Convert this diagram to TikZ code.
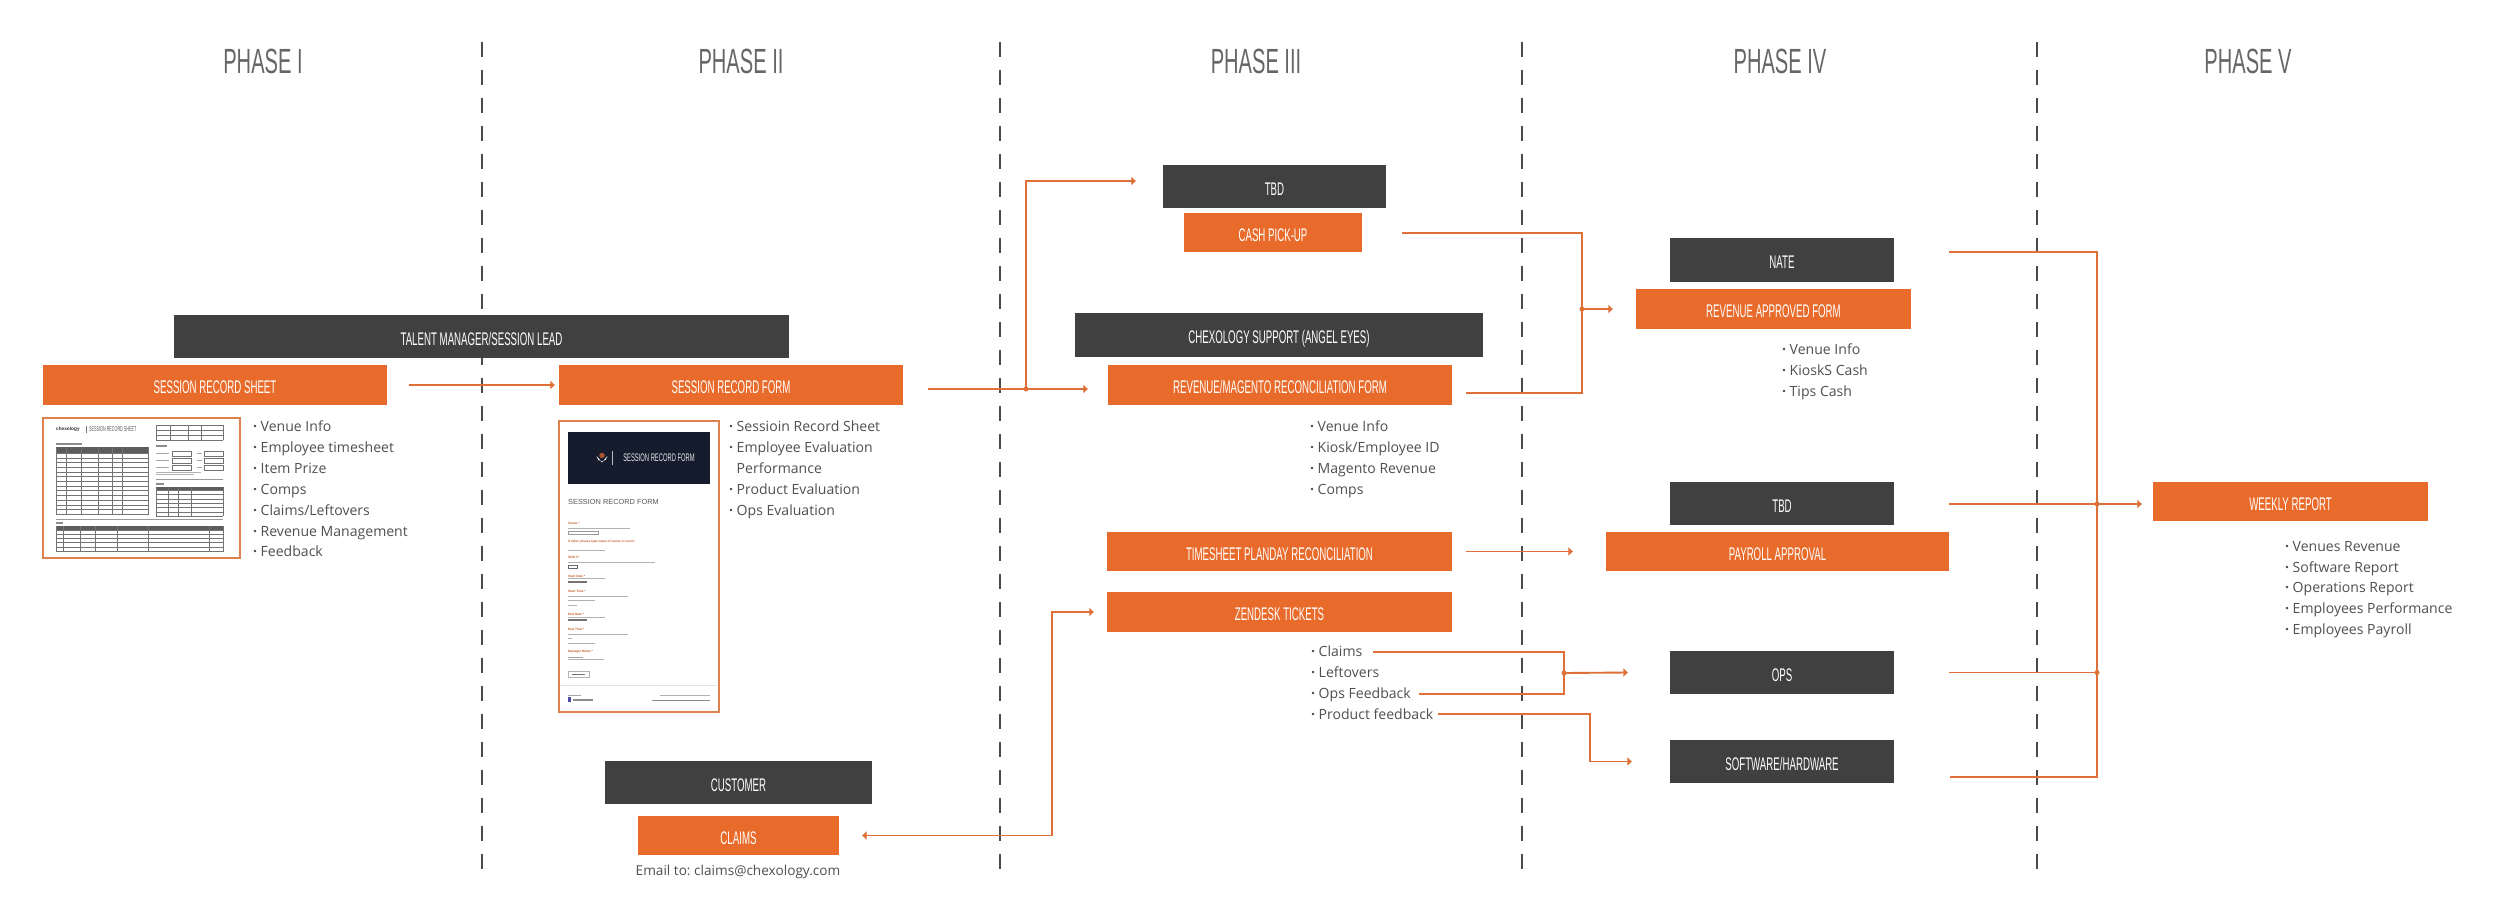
\documentclass[tikz,border=0pt]{standalone}
\usepackage{fontspec}
\setmainfont{Open Sans}
\newfontfamily\capf[FakeStretch=0.53]{Liberation Sans}
\newfontfamily\titlef[FakeStretch=0.575]{Liberation Sans}
\newfontfamily\tinyf{Liberation Sans}
\usetikzlibrary{arrows.meta,calc}
\definecolor{orangebox}{HTML}{E96B2B}
\definecolor{darkbox}{HTML}{404040}
\definecolor{connline}{HTML}{DF7038}
\definecolor{dashgrey}{HTML}{4A4A4A}
\definecolor{bodygrey}{HTML}{505050}
\definecolor{titlegrey}{HTML}{666666}
\definecolor{frameor}{HTML}{DE8250}
\definecolor{navy}{HTML}{141C2E}
\tikzset{
 x=0.4mm,y=-0.4mm,
 caplabel/.style={inner sep=0pt,text=white,font=\capf\fontsize{20.8}{22}\selectfont,text height=19.4pt,text depth=0pt},
 orbox/.style={caplabel,fill=orangebox},
 dkbox/.style={caplabel,fill=darkbox},
 phasetitle/.style={inner sep=0pt,text=titlegrey,font=\titlef\fontsize{39.8}{42}\selectfont},
 bullets/.style={inner sep=0pt,anchor=north west,align=left,text=bodygrey,font=\fontsize{16}{23.7}\selectfont},
 divider/.style={draw=dashgrey,line width=0.7mm,dash pattern=on 5.8mm off 5.4mm},
 conn/.style={draw=connline,line width=0.75mm},
 arr/.style={-{Triangle[length=5pt,width=9pt]}},
 duo/.style={{Triangle[length=5pt,width=9pt]}-{Triangle[length=5pt,width=9pt]}},
 thumbframe/.style={draw=frameor,line width=0.8mm,fill=white,inner sep=0pt},
 tl/.style={draw=black!55,line width=0.16mm},
 tinytxt/.style={inner sep=0pt,anchor=west,font=\tinyf\fontsize{3.6}{4}\selectfont\bfseries,text=orangebox!85!black},
}
\newcommand{\bx}[7]{\node[#2,minimum width={(#5-#3)*0.4mm},minimum height={(#6-#4)*0.4mm}] (#1) at ({(#3+#5)/2},{(#4+#6)/2}) {#7};}
\newcommand{\dotj}[1]{\fill[connline] (#1) circle[radius=1mm];}
\newcommand{\bu}{\textbf{·}\hspace{4pt}}
\newcommand{\nobu}{\phantom{\textbf{·}}\hspace{4pt}}
\frenchspacing
\begin{document}
\begin{tikzpicture}
\useasboundingbox (0,0) rectangle (2500,917);
\fill[white] (0,0) rectangle (2500,917);

% dividers
\foreach \n/\dx in {a/482,b/1000,c/1522,d/2037}{
  \coordinate (\n top) at (\dx,42);
  \coordinate (\n bot) at (\dx,876);
  \draw[divider] (\n top) -- (\n bot);
}

% phase titles
\node[phasetitle] (ph1) at (263,61) {PHASE I};
\node[phasetitle] (ph2) at (741,61) {PHASE II};
\node[phasetitle] (ph3) at (1256,61) {PHASE III};
\node[phasetitle] (ph4) at (1780,61) {PHASE IV};
\node[phasetitle] (ph5) at (2248,61) {PHASE V};

% boxes
\bx{talent}{dkbox}{174}{315}{789}{358}{TALENT MANAGER/SESSION LEAD}
\bx{sheet}{orbox}{43}{365}{387}{405}{SESSION RECORD SHEET}
\bx{form}{orbox}{559}{365}{903}{405}{SESSION RECORD FORM}
\bx{tbd}{dkbox}{1163}{165}{1386}{208}{TBD}
\bx{cash}{orbox}{1184}{213}{1362}{252}{CASH PICK-UP}
\bx{chex}{dkbox}{1075}{313}{1483}{357}{CHEXOLOGY SUPPORT (ANGEL EYES)}
\bx{rev}{orbox}{1108}{365}{1452}{405}{REVENUE/MAGENTO RECONCILIATION FORM}
\bx{time}{orbox}{1107}{532}{1452}{571}{TIMESHEET PLANDAY RECONCILIATION}
\bx{zen}{orbox}{1107}{592}{1452}{632}{ZENDESK TICKETS}
\bx{nate}{dkbox}{1670}{238}{1894}{282}{NATE}
\bx{appr}{orbox}{1636}{289}{1911}{329}{REVENUE APPROVED FORM}
\bx{tbdb}{dkbox}{1670}{482}{1894}{525}{TBD}
\bx{pay}{orbox}{1606}{532}{1949}{571}{PAYROLL APPROVAL}
\bx{ops}{dkbox}{1670}{651}{1894}{694}{OPS}
\bx{soft}{dkbox}{1670}{740}{1894}{783}{SOFTWARE/HARDWARE}
\bx{week}{orbox}{2153}{482}{2428}{521}{WEEKLY REPORT}
\bx{cust}{dkbox}{605}{761}{872}{804}{CUSTOMER}
\bx{claims}{orbox}{638}{816}{839}{855}{CLAIMS}

% bullet lists
\node[bullets] (l1) at (253,421) {\bu Venue Info\\\bu Employee timesheet\\\bu Item Prize\\\bu Comps\\\bu Claims/Leftovers\\\bu Revenue Management\\\bu Feedback};
\node[bullets] (l2) at (729,421) {\bu Sessioin Record Sheet\\\bu Employee Evaluation\\\nobu Performance\\\bu Product Evaluation\\\bu Ops Evaluation};
\node[bullets] (l3) at (1310,421) {\bu Venue Info\\\bu Kiosk/Employee ID\\\bu Magento Revenue\\\bu Comps};
\node[bullets] (l4) at (1782,344) {\bu Venue Info\\\bu KioskS Cash\\\bu Tips Cash};
\node[bullets] (l5) at (1311,646) {\bu Claims\\\bu Leftovers\\\bu Ops Feedback\\\bu Product feedback};
\node[bullets] (l6) at (2285,541) {\bu Venues Revenue\\\bu Software Report\\\bu Operations Report\\\bu Employees Performance\\\bu Employees Payroll};
\node[inner sep=0pt,text=bodygrey,font=\fontsize{15.5}{20}\selectfont] (mail) at (738,872) {Email to: claims@chexology.com};

% connector coordinates
\coordinate (busa) at (1026,389);
\coordinate (busb) at (1582,309);
\coordinate (busc) at (1052,720);
\coordinate (busd) at (1564,673);
\coordinate (buse) at (1590,740);
\coordinate (busf) at (2097,504);
\coordinate (busg) at (2097,672.5);
\coordinate (fromclaims) at (1373,652);
\coordinate (fromops) at (1419,694);
\coordinate (fromprod) at (1438,714);

% connectors
\draw[conn,arr] ($(sheet.east)+(22,0)$) -- ($(form.west)+(-4,0)$);
\draw[conn,arr] ($(form.east)+(25,4)$) -- ($(rev.west)+(-20,4)$);
\draw[conn,arr] (busa) |- ($(tbd.west)+(-27,-5.5)$);
\dotj{busa}
\draw[conn] ($(cash.east)+(40,0.5)$) -| (busb) |- ($(rev.east)+(14,8)$);
\draw[conn,arr] (busb) -- ($(appr.west)+(-23,0)$);
\dotj{busb}
\draw[conn,arr] ($(time.east)+(14,0)$) -- ($(pay.west)+(-33,0)$);
\draw[conn,duo] ($(zen.west)+(-13,0)$) -| (busc) |- ($(claims.east)+(23,0)$);
\draw[conn] (fromclaims) -| (busd) |- (fromops);
\draw[conn,arr] (busd) -- ($(ops.west)+(-42,0)$);
\dotj{busd}
\draw[conn,arr] (fromprod) -| (buse) |- ($(soft.west)+(-38,0)$);
\draw[conn] ($(nate.east)+(55,-8)$) -| (busf) |- ($(soft.east)+(56,15.5)$);
\draw[conn,arr] ($(tbdb.east)+(55,0.5)$) -- ($(week.west)+(-11,2.5)$);
\draw[conn] ($(ops.east)+(55,0)$) -- (busg);
\dotj{busf}
\dotj{busg}

% thumbnail 1: session record sheet
\bx{thumbsheet}{thumbframe}{43}{418}{240}{558}{}
\node[inner sep=0pt,anchor=west,font=\tinyf\fontsize{5.4}{6}\selectfont\bfseries,text=black!80] (logo) at (56,429) {chexology};
\node[inner sep=0pt,anchor=west,font=\capf\fontsize{8}{9}\selectfont,text=black!65] (sheettitle) at (89,429.5) {SESSION RECORD SHEET};
\draw[tl] (86.5,426) -- (86.5,433);
% main table
\fill[darkbox!85] (56,447) rectangle (148,453);
\foreach \v in {453,457.7,...,515.5}{\draw[tl] (56,\v) -- (148,\v);}
\foreach \u in {56,65.7,81,97.7,112.3,122.3,148}{\draw[tl] (\u,447) -- (\u,515);}
\fill[black!45] (56,443) rectangle (82,445);
% top right table
\foreach \v in {425,430,435,440}{\draw[tl] (156,\v) -- (223,\v);}
\foreach \u in {156,170,188,201,223}{\draw[tl] (\u,425) -- (\u,440);}
% inputs
\foreach \v in {451,458,465}{
  \draw[tl] (172,\v) rectangle (191,\v+5);
  \draw[tl] (204,\v) rectangle (223,\v+5);
  \fill[black!35] (156,\v+2) rectangle (169,\v+3);
  \fill[black!35] (197,\v+2) rectangle (202,\v+3);
}
\fill[black!45] (156,445) rectangle (167,447);
\fill[black!30] (156,471.5) rectangle (201,472.5);
\fill[black!30] (156,474) rectangle (194,475);
\draw[black!40,line width=0.14mm] (156,479) -- (223,479);
% right table 2
\fill[black!45] (156,482.5) rectangle (164,484.5);
\fill[darkbox!85] (156,487) rectangle (223,490);
\foreach \v in {490,494.4,...,517}{\draw[tl] (156,\v) -- (223,\v);}
\foreach \u in {156,168,178,191,223}{\draw[tl] (\u,487) -- (\u,516);}
\draw[black!40,line width=0.14mm] (56,519) -- (223,519);
% bottom table
\fill[black!45] (56,522) rectangle (63,524);
\fill[darkbox!85] (56,526) rectangle (223.5,530);
\foreach \v in {530,534.2,...,552}{\draw[tl] (56,\v) -- (223.5,\v);}
\foreach \u in {56,63,80,95,117,148,209,223.5}{\draw[tl] (\u,526) -- (\u,551);}

% thumbnail 2: session record form
\bx{thumbform}{thumbframe}{559}{421}{719}{712}{}
\fill[navy] (568,432) rectangle (710,484);
\fill[white] (602,462.5) -- (596.6,456) arc[start angle=180,end angle=0,radius=5.4] -- cycle;
\fill[orangebox!70!navy] (602,455.5) circle[radius=1.1mm];
\draw[white!70!navy,line width=0.14mm] (612,451) -- (612,465);
\node[inner sep=0pt,font=\capf\fontsize{12.5}{14}\selectfont,text=white!90!navy] (bantxt) at (659,458) {SESSION RECORD FORM};
\node[inner sep=0pt,anchor=west,font=\tinyf\fontsize{8.4}{10}\selectfont,text=black!65] (formtitle) at (568,502) {SESSION RECORD FORM};
\foreach \t/\v in {Venue */523,If other{,} please type name of venue or event./541.5,Shift \#*/557.5,Start Date */576,Start Time */591,End Date */614,End Time */629,Manager Name */652}{
  \node[tinytxt] at (568,\v) {\t};
}
\foreach \u/\v in {630/528,655/562,628/596,595/600,628/634,595/643}{
  \fill[black!30] (568,\v-0.5) rectangle (\u,\v+0.5);
}
\fill[black!30] (568,604.5) rectangle (577,605.5);
\fill[black!30] (568,638) rectangle (572,639);
\foreach \u/\v in {605/550,605/578.5,605/617,603.5/659.5}{
  \draw[black!30,line width=0.12mm] (568,\v) -- (\u,\v);
}
\fill[black!55] (568,581) rectangle (587,583);
\fill[black!55] (568,619) rectangle (587,621);
\fill[black!35] (568,656.5) rectangle (583,658);
\draw[black!40,line width=0.12mm] (568,531) rectangle (598,534);
\draw[black!60,line width=0.12mm] (568,565) rectangle (577,568.5);
\draw[black!30,line width=0.14mm] (568,671) rectangle (589.5,677);
\fill[black!55] (572,673.5) rectangle (585,674.5);
\draw[black!10,line width=0.14mm] (560,685) -- (717,685);
\fill[blue!50!black!70] (568,697) rectangle (571,702);
\fill[black!45] (572.5,699) rectangle (593,700.5);
\fill[black!35] (568,694.5) rectangle (581,695.5);
\fill[black!30] (660,695) rectangle (710,696);
\fill[black!45] (652,699.5) rectangle (710,700.5);
\end{tikzpicture}
\end{document}
